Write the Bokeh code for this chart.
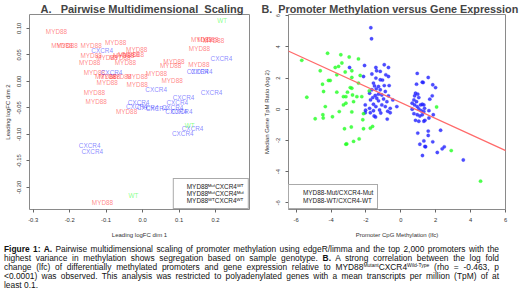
from bokeh.plotting import figure
from bokeh.models import ColumnDataSource, FixedTicker, Legend, LegendItem, Slope, Div, Range1d
from bokeh.layouts import column, row
from bokeh.embed import file_html
from bokeh.resources import INLINE
from bokeh.core.properties import value

# ---------------- Panel A : MDS labels ----------------
mds_myd_x = [-0.236, -0.221, -0.207, -0.141, -0.074, -0.141, -0.098, -0.145, -0.016, -0.052,
             -0.038, -0.025, -0.062, -0.047, -0.132, -0.101, -0.090, -0.060, -0.097, -0.015,
             -0.015, -0.132, -0.127, -0.044, 0.038, 0.086, 0.077, 0.081, 0.154, 0.156,
             0.162, 0.179, 0.195, -0.110]
mds_myd_y = [0.094, 0.067, 0.068, 0.068, 0.074, 0.049, 0.045, 0.036, 0.060, 0.049,
             0.050, 0.050, 0.045, 0.036, 0.017, 0.009, 0.010, 0.009, -0.003, 0.009,
             -0.005, -0.021, -0.038, -0.057, 0.015, 0.038, 0.030, 0.001, 0.031, 0.062,
             0.078, 0.078, 0.077, -0.228]
mds_cxcr_x = [-0.111, -0.085, 0.037, -0.011, -0.016, 0.014, 0.038, 0.112, 0.095, 0.092,
              0.107, 0.082, 0.151, 0.162, 0.216, 0.189, 0.137, 0.110, -0.145, -0.138]
mds_cxcr_y = [0.059, 0.016, -0.016, -0.039, -0.048, -0.050, -0.052, -0.031, -0.040, -0.057,
              -0.057, -0.050, 0.018, 0.019, 0.044, -0.021, -0.089, -0.099, -0.120, -0.133]
mds_wt_x = [0.218, 0.129, -0.025]
mds_wt_y = [0.115, -0.083, -0.216]

a_xticks = [-0.3, -0.2, -0.1, 0.0, 0.1, 0.2]
a_xtick_labels = ["-0.3", "-0.2", "-0.1", "0.0", "0.1", "0.2"]
a_yticks = [-0.20, -0.15, -0.10, -0.05, 0.00, 0.05, 0.10]
a_ytick_labels = ["-0.20", "-0.15", "-0.10", "-0.05", "0.00", "0.05", "0.10"]
a_groups = ["MYD88\u1d39\u1d58\u1d57CXCR4\u1d42\u1d40",
            "MYD88\u1d39\u1d58\u1d57CXCR4\u1d39\u1d58\u1d57",
            "MYD88\u1d42\u1d40CXCR4\u1d42\u1d40"]

# ---------------- Panel B : scatter ----------------
mut_x = [-1.72, -1.68, -2.08, -2.94, -1.43, -1.39, -0.95, -0.71, -1.18, -1.66, -0.86, -0.71, -2.14,
         -1.43, -1.18, -1.57, -1.05, -0.95, -0.67, -1.51, -1.28, -1.66, -1.41, -1.18, -0.89, -1.79,
         -1.47, -1.28, -1.09, -1.61, -1.38, -0.71, -1.74, -0.99, -0.80, -1.28, -0.46, -2.04, -1.57,
         -1.43, -1.09, -0.89, -1.79, -0.61, -0.23, -1.22, -1.57, -2.02, -1.45, -0.75, -2.04, -1.75,
         -1.53, -1.15, -0.78, -0.61,
         0.94, 1.23, 1.28, 1.57, 0.90, 1.83, 1.99, 0.84, 0.97, 0.79, 1.80, 1.66, 1.03, 0.75, 0.90,
         0.65, 1.13, 1.23, 1.32, 0.79, 0.94, 1.36, 0.65, 1.03, 1.61, 1.17, 1.32, 0.75, 0.94, 1.09,
         1.23, 1.61, 1.86, 0.84, 1.03, 1.32, 1.38, 1.57, 1.57, 2.28, 0.97, 1.32, 1.83, 1.09, 1.38,
         1.42, 2.37, 2.49, 2.09, 1.24, 3.58]
mut_y = [5.23, 4.52, 2.81, 2.68, 2.68, 2.47, 2.86, 2.68, 2.43, 2.26, 2.21, 2.10, 2.10,
         2.00, 1.89, 1.68, 1.87, 1.52, 1.52, 1.50, 1.46, 1.25, 1.31, 1.25, 1.14, 1.03,
         0.88, 0.97, 0.92, 0.75, 0.71, 0.86, 0.60, 0.66, 0.49, 0.54, 0.60, 0.28, 0.32,
         0.17, 0.28, 0.17, 0.06, 0.06, 0.17, -0.05, -0.09, -0.06, -0.50, -0.13, -0.22, -0.22,
         -0.43, -0.24, -0.63, -0.22,
         2.30, 1.74, 1.72, 2.04, 1.61, 1.57, 1.39, 1.03, 0.97, 0.86, 0.86, 0.65, 0.75, 0.60, 0.49,
         0.39, 0.28, 0.32, 0.28, 0.28, 0.17, 0.06, 0.00, 0.02, -0.09, -0.09, -0.15, -0.28, -0.35, -0.43,
         -0.35, -0.56, -0.35, -0.71, -0.77, -0.77, -0.71, -1.40, -1.68, -1.35, -1.53, -2.03, -2.09,
         -2.24, -2.39, -2.40, -2.54, -2.41, -2.77, -2.97, -3.25]
wt_x = [-5.68, -4.20, -3.44, -2.96, -2.43, -3.76, -3.57, -3.38, -4.62, -3.67, -3.19, -2.81, -2.33,
        -2.81, -4.15, -4.05, -4.49, -2.43, -2.90, -2.81, -4.43, -3.67, -3.06, -3.15, -2.77, -3.29,
        -5.39, -2.52, -2.24, -1.81, -3.15, -3.29, -2.71, -4.33, -3.53, -4.91, -4.47, -4.45, -3.92,
        -2.81, -2.14, -2.18, -2.84, -3.23, -2.14, -1.75, -1.62, -2.39, -2.71, -3.15, -3.10,
        2.05, 2.89, 4.57]
wt_y = [3.14, 3.59, 3.50, 3.35, 3.23, 2.68, 2.75, 2.97, 2.47, 2.21, 2.39, 2.47, 2.17,
        2.04, 1.85, 1.85, 1.61, 1.68, 1.39, 1.35, 1.14, 1.10, 1.10, 0.81, 0.92, 0.81,
        0.77, 0.81, 0.81, 1.18, 0.39, 0.28, 0.49, 0.17, -0.15, -0.61, -0.35, -0.56, -0.48,
        -0.17, -0.28, -0.67, -1.14, -1.25, -1.25, -1.21, -1.10, -1.90, -2.06, -2.24, -2.22,
        0.15, -2.65, -4.61]
fit_slope = -0.513
fit_intercept = 0.43

b_ticks = [-6, -4, -2, 0, 2, 4, 6]
b_tick_labels = ["-6", "-4", "-2", "0", "2", "4", "6"]
b_groups = ["MYD88-Mut/CXCR4-Mut", "MYD88-WT/CXCR4-WT"]

SUP = "style='font-size:5px;line-height:0;vertical-align:3px'"
caption_lines = [
    "<b>Figure 1: A.</b> Pairwise multidimensional scaling of promoter methylation using edgeR/limma and the top 2,000 promoters with the",
    "highest variance in methylation shows segregation based on sample genotype. <b>B.</b> A strong correlation between the log fold",
    f"change (lfc) of differentially methylated promoters and gene expression relative to MYD88<sup {SUP}>Mutant</sup>CXCR4<sup {SUP}>Wild-Type</sup> (rho = -0.463, p",
    "&lt;0.0001) was observed. This analysis was restricted to polyadenylated genes with a mean transcripts per million (TpM) of at",
    "least 0.1.",
]

FONT = "Liberation Sans"
RED, BLUE, GREEN = "#FF2020", "#2020FF", "#20FF20"


def style(p, xt, xl, yt, yl, xlabel, ylabel):
    p.xgrid.visible = False
    p.ygrid.visible = False
    p.outline_line_color = "#8a8a8a"
    p.outline_line_width = 1
    p.background_fill_color = "white"
    p.border_fill_color = "white"
    p.xaxis.ticker = FixedTicker(ticks=xt)
    p.yaxis.ticker = FixedTicker(ticks=yt)
    p.xaxis.major_label_overrides = {t: l for t, l in zip(xt, xl)}
    p.yaxis.major_label_overrides = {t: l for t, l in zip(yt, yl)}
    p.yaxis.major_label_orientation = "vertical"
    p.xaxis.axis_label = xlabel
    p.yaxis.axis_label = ylabel
    for ax in (p.xaxis, p.yaxis):
        ax.axis_line_color = None
        ax.major_tick_line_color = "#666666"
        ax.major_tick_out = 3
        ax.major_tick_in = 0
        ax.minor_tick_line_color = None
        ax.major_label_text_font = FONT
        ax.major_label_text_font_size = "5.8px"
        ax.major_label_text_color = "#333333"
        ax.axis_label_text_font = FONT
        ax.axis_label_text_font_size = "6px"
        ax.axis_label_text_font_style = "normal"
        ax.axis_label_text_color = "#333333"
    p.xaxis.major_label_standoff = 5
    p.yaxis.major_label_standoff = 5
    p.xaxis.axis_label_standoff = 7
    p.yaxis.axis_label_standoff = 4
    p.title.text_font = FONT
    p.title.text_font_size = "11px"
    p.title.text_font_style = "bold"
    p.title.align = "left"
    p.title.standoff = 0


# ---------- figure A ----------
pA = figure(width=258, height=245, output_backend="svg", toolbar_location=None,
            min_border_left=29, min_border_right=9, min_border_top=14, min_border_bottom=36,
            x_range=Range1d(-0.310, 0.293), y_range=Range1d(-0.2415, 0.126),
            title="A.\u00a0\u00a0 Pairwise Multidimensional\u00a0 Scaling")
style(pA, a_xticks, a_xtick_labels, a_yticks, a_ytick_labels,
      "Leading logFC dim 1", "Leading logFC dim 2")
pA.title.offset = 11

for xs, ys, lab, col in [(mds_myd_x, mds_myd_y, "MYD88", RED),
                         (mds_cxcr_x, mds_cxcr_y, "CXCR4", BLUE),
                         (mds_wt_x, mds_wt_y, "WT", GREEN)]:
    src = ColumnDataSource(dict(x=xs, y=ys, t=[lab] * len(xs)))
    pA.text(x="x", y="y", text="t", source=src, text_align="center", text_baseline="middle",
            text_font=value(FONT), text_font_size="6.4px", text_color=col, text_alpha=0.55)

itemsA = []
for lab, col in zip(a_groups, [RED, BLUE, GREEN]):
    r = pA.quad(left=[], right=[], top=[], bottom=[], fill_color=col, fill_alpha=0.8,
                line_color="black", line_width=0.6)
    itemsA.append(LegendItem(label=lab, renderers=[r]))
legA = Legend(items=itemsA, location="bottom_right", margin=0, padding=4, spacing=0,
              glyph_width=6, glyph_height=6, label_height=7, label_standoff=3,
              label_text_font=FONT, label_text_font_size="6.4px", label_text_color="#222222",
              border_line_color="#555555", border_line_width=0.8, background_fill_alpha=1)
pA.add_layout(legA)

# ---------- figure B ----------
pB = figure(width=261, height=245, output_backend="svg", toolbar_location=None,
            min_border_left=30, min_border_right=14, min_border_top=14, min_border_bottom=36,
            x_range=Range1d(-6.44, 6.0), y_range=Range1d(-6.43, 6.08),
            title="B.\u00a0 Promoter Methylation versus Gene Expression")
style(pB, b_ticks, b_tick_labels, b_ticks, b_tick_labels,
      "Promoter CpG Methylation (lfc)", "Median Gene TpM Ratio (log 2)")
pB.title.offset = -27
pB.title.text_font_size = "10.8px"

rb = pB.scatter(mut_x, mut_y, marker="circle", size=3.4, fill_color=BLUE, line_color=BLUE,
                line_width=0.3, alpha=0.8)
rg = pB.scatter(wt_x, wt_y, marker="circle", size=3.4, fill_color=GREEN, line_color=GREEN,
                line_width=0.3, alpha=0.8)
pB.add_layout(Slope(gradient=fit_slope, y_intercept=fit_intercept, line_color="#FF6A6A",
                    line_width=1.2))
itemsB = []
for lab, col in zip(b_groups, [BLUE, GREEN]):
    r = pB.quad(left=[], right=[], top=[], bottom=[], fill_color=col, fill_alpha=0.8,
                line_color="black", line_width=0.6)
    itemsB.append(LegendItem(label=lab, renderers=[r]))
legB = Legend(items=itemsB, location="bottom_left", margin=0, padding=4, spacing=1,
              glyph_width=6, glyph_height=6, label_height=7, label_standoff=4,
              label_text_font=FONT, label_text_font_size="6.4px", label_text_color="#222222",
              border_line_color="#555555", border_line_width=0.8, background_fill_alpha=1)
pB.add_layout(legB)

# ---------- caption ----------
parts = []
for i, line in enumerate(caption_lines):
    last = "left" if i == len(caption_lines) - 1 else "justify"
    parts.append(f"<div style='width:495px;text-align:justify;text-align-last:{last};"
                 f"white-space:nowrap'>{line}</div>")
caption = Div(text="".join(parts), width=500, height=46, margin=(0, 0, 0, 4),
              styles={"font-family": "'Liberation Sans', Arial, sans-serif", "font-size": "8.4px",
                      "line-height": "9px", "color": "#111111"})

layout = column(row(pA, pB, spacing=0), caption, spacing=0)
open("out.html", "w").write(file_html(layout, INLINE))
